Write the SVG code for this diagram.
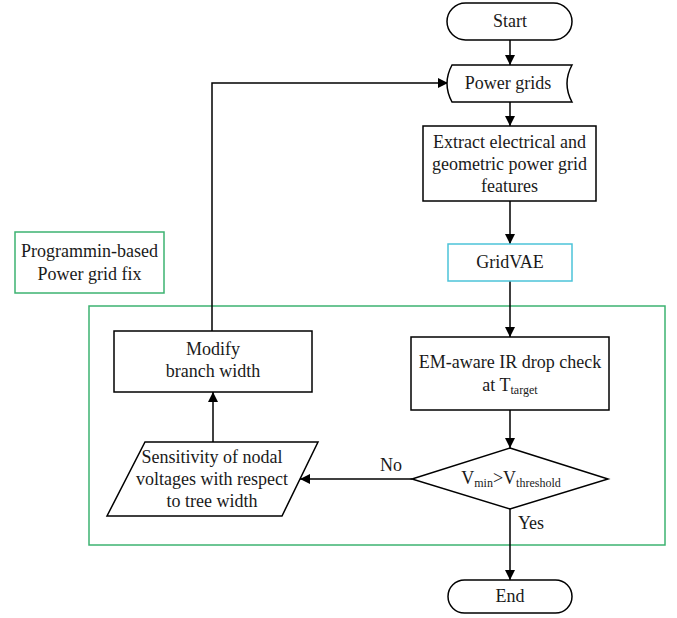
<svg xmlns="http://www.w3.org/2000/svg" width="677" height="618" viewBox="0 0 677 618">
<defs>
<marker id="ah" viewBox="0 0 10 10" refX="10" refY="5" markerWidth="10" markerHeight="10" markerUnits="userSpaceOnUse" orient="auto">
<path d="M0,0 L10,5 L0,10 Z" fill="#000"/>
</marker>
<style>
.n{fill:#fff;stroke:#000;stroke-width:1.5}
text{font-family:'Liberation Serif','Times New Roman','DejaVu Serif',serif;font-size:18px;fill:#1a1a1a;text-anchor:middle}
.s{font-size:12px}
.c{fill:none;stroke:#000;stroke-width:1.5;marker-end:url(#ah)}
</style>
</defs>
<rect width="677" height="618" fill="#fff"/>
<g id="fix-region">
<rect x="89" y="306" width="576" height="239" fill="none" stroke="#3cb371" stroke-width="1.5"/>
</g>
<g id="connectors">
<path class="c" d="M510,40 V65"/>
<path class="c" d="M510,102 V126"/>
<path class="c" d="M510,201 V244"/>
<path class="c" d="M510,281 V337"/>
<path class="c" d="M510,410 V448"/>
<path class="c" d="M510,509 V580"/>
<path class="c" d="M412,479 H300"/>
<path class="c" d="M213,442 V392"/>
<path class="c" d="M212,331 V83 H448"/>
</g>
<g id="start">
<rect class="n" x="447" y="3" width="125" height="37" rx="18.5"/>
<text x="510" y="27">Start</text>
</g>
<g id="power-grids">
<path class="n" d="M452,65 H572 Q562,83.5 572,102 H452 Q442,83.5 452,65 Z"/>
<text x="508" y="89">Power grids</text>
</g>
<g id="extract">
<rect class="n" x="423" y="126" width="173" height="75"/>
<text x="509.5" y="148">Extract electrical and</text>
<text x="509.5" y="170">geometric power grid</text>
<text x="509.5" y="192">features</text>
</g>
<g id="gridvae">
<rect x="448" y="244" width="124" height="37" fill="#fff" stroke="#4cc3d9" stroke-width="1.5"/>
<text x="510" y="268">GridVAE</text>
</g>
<g id="programmin">
<rect x="15" y="232" width="149" height="61" fill="#fff" stroke="#3cb371" stroke-width="1.5"/>
<text x="89.5" y="257">Programmin-based</text>
<text x="89.5" y="280">Power grid fix</text>
</g>
<g id="em-check">
<rect class="n" x="411" y="337" width="198" height="73"/>
<text x="510" y="368">EM-aware IR drop check</text>
<text x="510" y="391">at T<tspan class="s" dy="3">target</tspan></text>
</g>
<g id="decision">
<path class="n" d="M510,448 L608,479 L510,509 L412,479 Z"/>
<text x="511" y="484">V<tspan class="s" dy="3">min</tspan><tspan dy="-3">&gt;V</tspan><tspan class="s" dy="3">threshold</tspan></text>
</g>
<g id="end">
<rect class="n" x="448" y="580" width="124" height="33" rx="16.5"/>
<text x="510" y="602">End</text>
</g>
<g id="modify">
<rect class="n" x="114" y="331" width="198" height="61"/>
<text x="213" y="355">Modify</text>
<text x="213" y="377">branch width</text>
</g>
<g id="sensitivity">
<path class="n" d="M145,442 L318,442 L282,516 L107,516 Z"/>
<text x="212" y="463">Sensitivity of nodal</text>
<text x="212" y="485">voltages with respect</text>
<text x="212" y="507">to tree width</text>
</g>
<g id="labels">
<text x="391" y="471">No</text>
<text x="531" y="529">Yes</text>
</g>
</svg>
